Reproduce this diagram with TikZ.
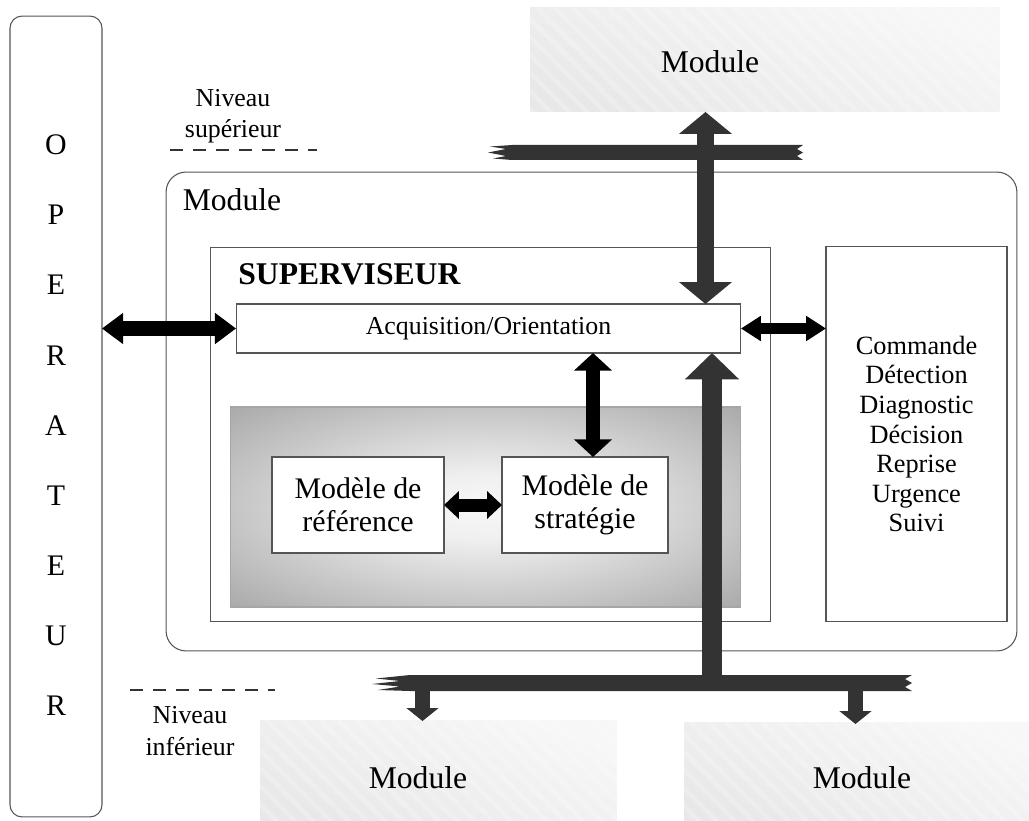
\documentclass[tikz,border=0pt]{standalone}
\usepackage{fontspec}
\setmainfont{Liberation Serif}
\usetikzlibrary{arrows.meta,calc}
\definecolor{busgray}{HTML}{333333}
\definecolor{framegray}{HTML}{555555}
% soft glow used behind the two model boxes
\pgfdeclareradialshading{glow}{\pgfpoint{0bp}{0bp}}{color(0bp)=(white!97!black); color(8bp)=(white!94!black); color(25bp)=(black!23); color(36bp)=(black!34); color(50bp)=(black!34)}

\begin{document}
\begin{tikzpicture}[x=0.02cm,y=-0.02cm,
  box/.style={draw=framegray, line width=0.6pt, inner sep=0pt, outer sep=0pt, fill=white},
  module/.style={inner sep=0pt, outer sep=0pt, top color=black!3, bottom color=black!9, shading angle=-20},
  txt/.style={inner sep=0pt, font=\fontsize{14.7}{17}\selectfont, align=center},
  bigtxt/.style={inner sep=0pt, font=\fontsize{18}{20}\selectfont},
  modtxt/.style={inner sep=0pt, font=\fontsize{17}{18.7}\selectfont, align=center},
  lettre/.style={inner sep=0pt, font=\fontsize{17}{18}\selectfont},
  bus/.style={fill=busgray},
  busdbl/.style={draw=busgray, line width=9.6pt, {Triangle[length=12.5pt,width=29.5pt]}-{Triangle[length=12.5pt,width=29.5pt]}},
  busup/.style={draw=busgray, line width=11pt, -{Triangle[length=15pt,width=30pt]}},
  busdown/.style={draw=busgray, line width=9pt, -{Triangle[length=7.4pt,width=18pt]}},
  blk/.style n args={3}{draw=black, line width=#1, {Triangle[length=#3,width=#2]}-{Triangle[length=#3,width=#2]}},
  niveau/.style={dashed, dash pattern=on 7.4pt off 5.7pt, line width=1.1pt, draw=black!80}]

\useasboundingbox (0,0) rectangle (1029,821);

% frames
\node[box, rounded corners=0.4cm, minimum width=17.02cm, minimum height=9.58cm] (bigmod) at (591.5,411.5) {};
\node[box, minimum width=11.22cm, minimum height=7.5cm] (sup) at (490.5,434.5) {};
\node[box, txt, minimum width=10.1cm, minimum height=0.98cm] (acq) at (488.5,328.5) {Acquisition/Orientation};
\node[draw=black!35, line width=0.6pt, inner sep=0pt, outer sep=0pt, shading=glow, minimum width=10.22cm, minimum height=4cm] (glowbox) at (485.5,507) {};
\node[box, minimum width=3.44cm, minimum height=1.92cm, modtxt] (ref) at (358,505) {Modèle de\\référence};
\node[box, minimum width=3.32cm, minimum height=1.92cm, modtxt] (strat) at (585,505) {Modèle de\\stratégie};
\node[box, minimum width=3.62cm, minimum height=7.52cm, txt, font=\fontsize{15}{16.8}\selectfont] (cmd) at (916.5,434) {Commande\\Détection\\Diagnostic\\Décision\\Reprise\\Urgence\\Suivi};
\node[box, rounded corners=0.24cm, minimum width=1.84cm, minimum height=16.02cm] (oper) at (56,416.5) {};

% outer modules
\node[module, minimum width=9.4cm, minimum height=2.1cm] (topmod) at (765,59.5) {};
\node[module, minimum width=7.14cm, minimum height=2.02cm] (botL) at (438.5,770.5) {};
\node[module, minimum width=6.9cm, minimum height=1.98cm] (botR) at (856.5,771.5) {};
\foreach \m in {topmod,botL,botR}{
  \begin{scope}
    \clip (\m.south west) rectangle (\m.north east);
    \foreach \s in {-300,-282,...,600}
      \draw[white, opacity=0.22, line width=2.5pt] ($(\m.north west)+(\s,0)$) -- ++(110,110);
  \end{scope}
}

% texts
\node[bigtxt] (tmod) at (710,62) {Module};
\node[bigtxt] (bmod) at (232,200) {Module};
\node[bigtxt, anchor=west, font=\fontsize{18}{20}\selectfont\bfseries] (suptitle) at (238,274) {SUPERVISEUR};
\node[bigtxt] (lmod) at (418,778) {Module};
\node[bigtxt] (rmod) at (862,778) {Module};
\node[txt, font=\fontsize{14.7}{17.8}\selectfont] (nsup) at (233,116) {Niveau\\supérieur};
\node[txt, font=\fontsize{14.7}{17.8}\selectfont] (ninf) at (190,731) {Niveau\\inférieur};
\foreach \l [count=\i from 0] in {O,P,E,R,A,T,E,U,R}
  \node[lettre] (op\i) at (56,{145+70.1*\i}) {\l};

% level separators
\coordinate (ns1) at (170,150); \coordinate (ns2) at (317,150);
\coordinate (ni1) at (130,690); \coordinate (ni2) at (275,690);
\draw[niveau] (ns1) -- (ns2);
\draw[niveau] (ni1) -- (ni2);

% upper bus
\fill[bus] (512,145) -- (490,146.5) -- (506,149) -- (488,152.5) -- (506,156) -- (493,158.5) -- (512,160)
  -- (803,160) -- (797,156) -- (803,152.5) -- (797,149) -- (803,145) -- cycle;
% lower bus
\fill[bus] (410,675) -- (376,678.5) -- (400,681) -- (372,684) -- (400,686.5) -- (378,690) -- (410,691)
  -- (912,691) -- (905,687) -- (912,683) -- (905,679) -- (912,675) -- cycle;

\coordinate (vx) at (705.5,0);
\coordinate (ux) at (712,683);
\coordinate (dl) at (422.5,683);
\coordinate (dr) at (855.5,683);
\coordinate (dlt) at (422.5,721);
\coordinate (drt) at (855.5,724);

\draw[busdbl] (topmod.south -| vx) -- (acq.north -| vx);
\draw[busup] (ux) -- (acq.south -| ux);
\draw[busdown] (dl) -- (dlt);
\draw[busdown] (dr) -- (drt);

% black links
\draw[blk={8pt}{17pt}{12pt}] (acq.west -| oper.east) -- (acq.west);
\draw[blk={6.2pt}{13.6pt}{11.3pt}] (acq.east) -- (acq.east -| cmd.west);
\coordinate (vb) at (593,0);
\draw[blk={8pt}{21pt}{10pt}] (acq.south -| vb) -- (strat.north -| vb);
\draw[blk={7.4pt}{15.3pt}{8.5pt}] (ref.east) -- (strat.west);
\end{tikzpicture}
\end{document}
